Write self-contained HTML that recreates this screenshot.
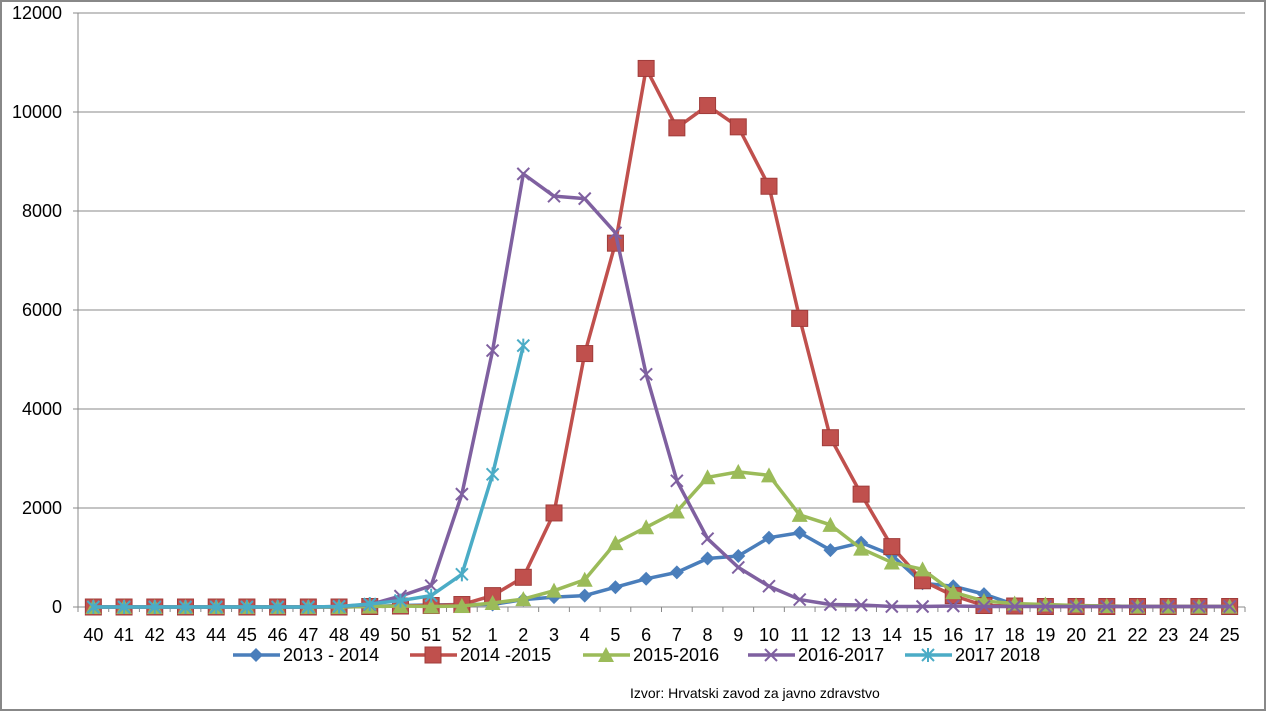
<!DOCTYPE html>
<html><head><meta charset="utf-8"><style>
html,body{margin:0;padding:0;background:#fff}
svg{display:block}
text{font-family:"Liberation Sans",sans-serif;font-size:18px;fill:#000}
</style></head><body>
<svg id="c" width="1266" height="711" xmlns="http://www.w3.org/2000/svg">
<rect x="1" y="1" width="1264" height="709" fill="#fff" stroke="#888" stroke-width="2"/>
</svg>
<script>
const s=document.getElementById('c'),NS='http://www.w3.org/2000/svg';
function el(t,a,txt){const e=document.createElementNS(NS,t);for(const k in a)e.setAttribute(k,a[k]);if(txt!=null)e.textContent=txt;s.appendChild(e);return e;}
const L=78,R=1245,T=13,B=607,n=38,dx=(R-L)/n;
const X=i=>L+dx*(i+0.5),Y=v=>B-(v/12000)*(B-T);
for(let k=0;k<=6;k++){const y=Y(k*2000);el('line',{x1:L,x2:R,y1:y,y2:y,stroke:'#888','stroke-width':1});
el('line',{x1:L-5,x2:L,y1:y,y2:y,stroke:'#888'});
el('text',{x:62,y:y+6,'text-anchor':'end'},String(k*2000));}
el('line',{x1:L,x2:L,y1:T,y2:B,stroke:'#888'});
const labs=[];for(let w=40;w<=52;w++)labs.push(w);for(let w=1;w<=25;w++)labs.push(w);
labs.forEach((w,i)=>{el('text',{x:X(i),y:641,'text-anchor':'middle'},String(w));});
for(let i=0;i<=n;i++){const x=L+dx*i;el('line',{x1:x,x2:x,y1:B,y2:B+5,stroke:'#888'});}
function pad(pre,arr){const r=[];for(let i=0;i<pre;i++)r.push(0);return r.concat(arr);}
const S=[
{c:'#4a7ebb',m:'d',d:pad(9,[10,30,40,50,50,150,200,230,400,570,700,980,1030,1400,1500,1150,1300,1050,480,420,260,50,20,20,20,10,10,10,10])},
{c:'#c0504d',m:'s',d:pad(9,[10,20,30,50,230,600,1900,5120,7350,10880,9680,10130,9700,8500,5830,3420,2280,1220,530,230,30,20,10,10,10,10,10,10,10])},
{c:'#9bbb59',m:'t',d:pad(9,[10,20,10,20,80,160,330,550,1290,1610,1930,2620,2730,2660,1860,1660,1180,900,760,300,120,70,50,30,20,10,10,10,10])},
{c:'#7f60a0',m:'x',d:pad(8,[10,50,220,430,2280,5180,8750,8300,8250,7560,4700,2550,1380,800,420,150,50,40,10,10,20,10,10,10,10,10,10,10,10,10])},
{c:'#4bacc6',m:'a',d:[0,0,0,0,0,0,0,0,10,60,130,230,660,2680,5280]}
];
function marker(m,x,y,c){
 if(m=='d')el('polygon',{points:`${x},${y-7} ${x+7},${y} ${x},${y+7} ${x-7},${y}`,fill:c});
 else if(m=='s')el('rect',{x:x-8,y:y-8,width:16,height:16,fill:c,stroke:'#a03c3a','stroke-width':1});
 else if(m=='t')el('polygon',{points:`${x},${y-8} ${x+8},${y+7} ${x-8},${y+7}`,fill:c});
 else if(m=='x'){el('path',{d:`M${x-6} ${y-6}L${x+6} ${y+6}M${x-6} ${y+6}L${x+6} ${y-6}`,stroke:c,'stroke-width':2});}
 else {el('path',{d:`M${x-6} ${y-6}L${x+6} ${y+6}M${x-6} ${y+6}L${x+6} ${y-6}M${x} ${y-7}L${x} ${y+7}`,stroke:c,'stroke-width':2});}
}
S.forEach(sr=>{const pts=sr.d.map((v,i)=>X(i)+','+Y(v)).join(' ');
el('polyline',{points:pts,fill:'none',stroke:sr.c,'stroke-width':3.5,'stroke-linejoin':'round'});
sr.d.forEach((v,i)=>marker(sr.m,X(i),Y(v),sr.c));});
const lg=[[233,'2013 - 2014'],[410,'2014 -2015'],[583,'2015-2016'],[748,'2016-2017'],[905,'2017 2018']];
lg.forEach((g,k)=>{const x=g[0],c=S[k].c;el('line',{x1:x,x2:x+47,y1:655,y2:655,stroke:c,'stroke-width':3.5});
marker(S[k].m,x+23,655,c);el('text',{x:x+50,y:661},g[1]);});
el('text',{x:630,y:698,style:'font-size:14px'},'Izvor: Hrvatski zavod za javno zdravstvo');
</script>
</body></html>
